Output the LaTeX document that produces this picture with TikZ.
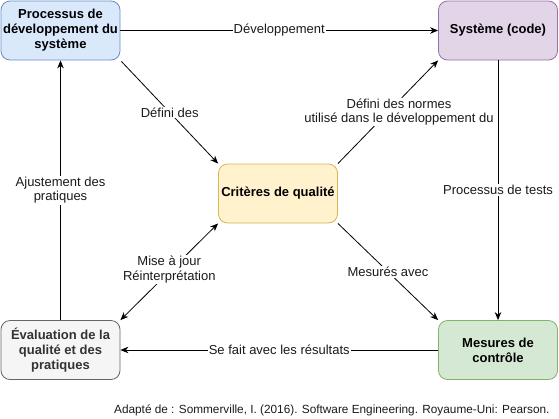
\documentclass[tikz,border=0pt]{standalone}
\usepackage{fontspec}
\setmainfont{Liberation Sans}
\usetikzlibrary{arrows.meta}
\definecolor{bluef}{HTML}{DAE8FC}\definecolor{blued}{HTML}{6C8EBF}
\definecolor{purf}{HTML}{E1D5E7}\definecolor{purd}{HTML}{9673A6}
\definecolor{yelf}{HTML}{FFF2CC}\definecolor{yeld}{HTML}{D6B656}
\definecolor{grayf}{HTML}{F5F5F5}\definecolor{grayd}{HTML}{666666}\definecolor{grayt}{HTML}{333333}
\definecolor{grnf}{HTML}{D5E8D4}\definecolor{grnd}{HTML}{82B366}
\definecolor{txt}{HTML}{1A1A1A}
\begin{document}
\begin{tikzpicture}[x=1pt,y=-1pt,
  box/.style={rectangle,rounded corners=9pt,minimum width=119pt,minimum height=59pt,
    inner sep=2pt,align=center,font=\fontsize{13}{15}\selectfont\bfseries,line width=0.8pt},
  tip/.tip={Stealth[length=8pt,width=6.5pt,inset=2.5pt]},
  conn/.style={line width=0.8pt,-tip},
  lbl/.style={fill=white,inner sep=1pt,align=center,font=\fontsize{13}{14.5}\selectfont,text=txt}]
\useasboundingbox (0,0) rectangle (559,418);
\node[box,fill=bluef,draw=blued] (dev) at (60.5,30.5) {Processus de\\d\'eveloppement du\\syst\`eme};
\node[box,fill=purf,draw=purd] (sys) at (498,30.5) {Syst\`eme (code)};
\node[box,fill=yelf,draw=yeld] (crit) at (278,193.5) {Crit\`eres de qualit\'e};
\node[box,fill=grayf,draw=grayd,text=grayt] (eval) at (60.5,350) {\'Evaluation de la\\qualit\'e et des\\pratiques};
\node[box,fill=grnf,draw=grnd] (mes) at (498,350) {Mesures de\\contr\^ole};

\draw[conn] (dev.east) -- node[lbl]{D\'eveloppement} (sys.west);
\draw[conn] ([shift={(1,1)}]dev.south east) -- node[lbl,pos=0.5]{D\'efini des} (crit.north west);
\draw[conn] (crit.north east) -- node[lbl,pos=0.5,xshift=11pt]{D\'efini des normes\\utilis\'e dans le d\'eveloppement du} (sys.south west);
\draw[conn] (sys.south) -- node[lbl]{Processus de tests} (mes.north);
\draw[conn] (crit.south east) -- node[lbl]{Mesur\'es avec} (mes.north west);
\draw[conn] (mes.west) -- node[lbl]{Se fait avec les r\'esultats} (eval.east);
\draw[line width=0.8pt,tip-tip] (eval.north east) -- node[lbl,yshift=2pt]{Mise \`a jour\\R\'einterpr\'etation} (crit.south west);
\draw[conn] (eval.north) -- node[lbl]{Ajustement des\\pratiques} (dev.south);
\node[font=\fontsize{11.8}{14}\selectfont,text=txt,anchor=east] (cap) at (553,410) {Adapt\'e de : Sommerville, I. (2016). Software Engineering. Royaume-Uni: Pearson.};
\end{tikzpicture}
\end{document}
